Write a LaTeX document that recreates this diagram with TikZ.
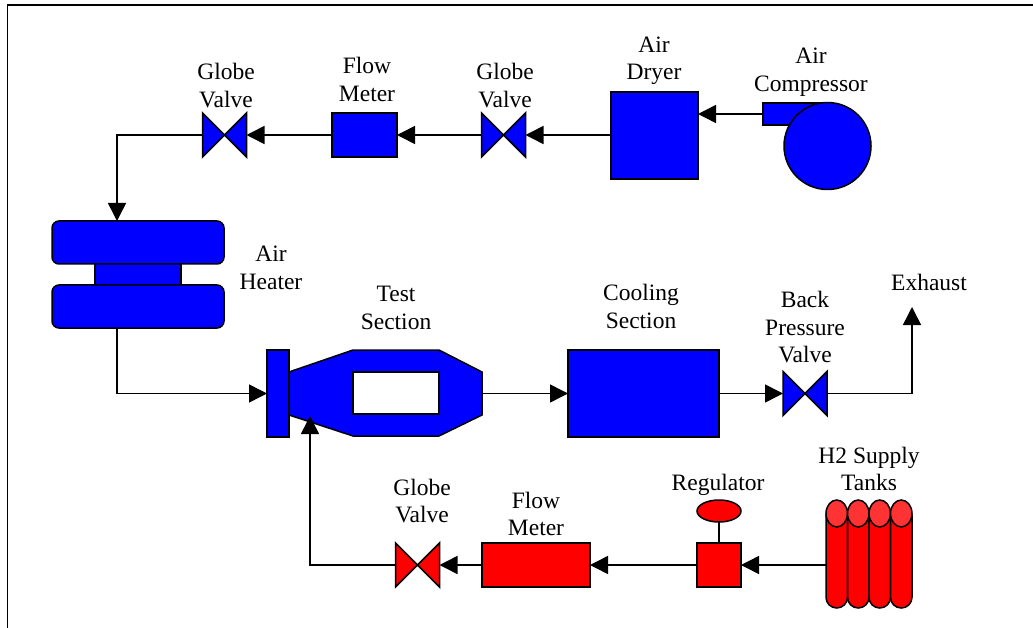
\documentclass[tikz,border=0pt]{standalone}
\usepackage{fontspec}
\setmainfont{Liberation Serif}
\usetikzlibrary{arrows.meta,shapes.geometric}
\definecolor{fblue}{RGB}{0,0,255}
\definecolor{fred}{RGB}{255,0,0}
\definecolor{capred}{RGB}{255,51,51}
\tikzset{x=1pt,y=-1pt,
 lbl/.style={font=\fontsize{23.5}{27.5}\selectfont,align=center,text=black,inner sep=0pt},
 ol/.style={draw=black,line width=1.5pt,line join=miter},
 box/.style={ol,fill=fblue,inner sep=0,outer sep=0},
 rbox/.style={ol,fill=fred,inner sep=0,outer sep=0},
 flow/.style={draw=black,line width=1.5pt,-{Triangle[length=18pt,width=18pt]}}}
\newcommand{\valve}[3]{% name, center, colour
 \path #2 coordinate (#1);
 \filldraw[ol,fill=#3] ([shift={(-22,-22)}]#1) -- ([shift={(22,22)}]#1) -- ([shift={(22,-22)}]#1) -- ([shift={(-22,22)}]#1) -- cycle;
 \coordinate (#1 w) at ([xshift=-22pt]#1);
 \coordinate (#1 e) at ([xshift=22pt]#1);}
\begin{document}
\begin{tikzpicture}
\useasboundingbox (0,0) rectangle (1033,628);
\fill[white] (0,0) rectangle (1033,628);
% frame
\coordinate (fa) at (7.5,628); \coordinate (fb) at (7.5,5); \coordinate (fc) at (1033,5);
\draw[black,line width=1.5pt] (fa) -- (fb) -- (fc);
% compressor
\node[box,anchor=north west,minimum width=64pt,minimum height=22pt] (compd) at (763,103) {};
\node[box,circle,minimum size=87pt] (comp) at (827.5,146) {};
\node[lbl] (tcomp) at (811,72) {Air\\Compressor};
% dryer
\node[box,anchor=north west,minimum width=87pt,minimum height=87pt] (dryer) at (611,92) {};
\node[lbl] (tdry) at (654,61) {Air\\Dryer};
\valve{v1}{(503.5,135)}{fblue}
\node[lbl] (tv1) at (505,85.5) {Globe\\Valve};
\node[box,anchor=north west,minimum width=65pt,minimum height=44pt] (fm1) at (332,113) {};
\node[lbl] (tfm1) at (367,79.5) {Flow\\Meter};
\valve{v2}{(224.5,135)}{fblue}
\node[lbl] (tv2) at (226,85.5) {Globe\\Valve};
% heater
\node[box,anchor=north west,minimum width=86pt,minimum height=44pt] (hm) at (95,242) {};
\node[box,rounded corners=7pt,anchor=north west,minimum width=172pt,minimum height=43pt] (h1) at (52,221) {};
\node[box,rounded corners=7pt,anchor=north west,minimum width=172pt,minimum height=43pt] (h2) at (52,285) {};
\node[lbl] (theat) at (271,268) {Air\\Heater};
% test section
\fill[fblue] (289,372) -- (353,350) -- (439,350) -- (482,372) -- (482,415) -- (439,436) -- (353,436) -- (289,415) -- cycle;
\draw[ol] (289,372) -- (353,350) -- (439,350) -- (482,372) -- (482,415) -- (439,436) -- (353,436) -- (289,415);
\node[ol,fill=white,inner sep=0,outer sep=0,anchor=north west,minimum width=86pt,minimum height=42pt] (win) at (353,372) {};
\node[box,anchor=north west,minimum width=22pt,minimum height=87pt] (inj) at (267,350) {};
\coordinate (tse) at (482,393);
\coordinate (tsb) at (310,416);
\node[lbl] (tts) at (396,308) {Test\\Section};
% cooling
\node[box,anchor=north west,minimum width=151pt,minimum height=87pt] (cool) at (568,350) {};
\node[lbl] (tcool) at (641,306.5) {Cooling\\Section};
\valve{v3}{(805,393.5)}{fblue}
\node[lbl] (tv3) at (805,327.5) {Back\\Pressure\\Valve};
\node[lbl] (tex) at (929,282) {Exhaust};
\coordinate (ex) at (912,307);
% tanks
\foreach \i/\x in {1/836.75,2/858.25,3/879.75,4/901.25}{
 \filldraw[ol,fill=fred,rounded corners=10.7pt] (\x-10.75,505) rectangle (\x+10.75,608);
 \node[ol,fill=capred,ellipse,minimum width=21.5pt,minimum height=27pt,inner sep=0,outer sep=0] (cap\i) at (\x,513.5) {};
}
\coordinate (tankw) at (826,565);
\node[lbl] (ttank) at (869,469) {H2 Supply\\Tanks};
% regulator
\node[rbox,anchor=north west,minimum width=44pt,minimum height=44pt] (reg) at (697,543) {};
\node[rbox,ellipse,minimum width=44pt,minimum height=22pt] (gauge) at (719,511) {};
\draw[ol] (gauge.south) -- (reg.north);
\node[lbl] (treg) at (718,485) {Regulator};
% flow meter
\node[rbox,anchor=north west,minimum width=108pt,minimum height=44pt] (fm2) at (482,543) {};
\node[lbl] (tfm2) at (536,514) {Flow\\Meter};
\valve{v4}{(417.5,565)}{fred}
\node[lbl] (tv4) at (422,501) {Globe\\Valve};
% connectors
\draw[flow] (compd.west) -- (dryer.east |- compd.west);
\draw[flow] (dryer.west |- v1) -- (v1 e);
\draw[flow] (v1 w) -- (fm1.east |- v1);
\draw[flow] (fm1.west) -- (v2 e);
\coordinate (bend) at (117,135);
\draw[flow] (v2 w) -- (bend) -- (bend |- h1.north);
\draw[flow] (bend |- h2.south) |- (inj.west);
\draw[flow] (tse |- cool.west) -- (cool.west);
\draw[flow] (cool.east) -- (v3 w);
\draw[flow] (v3 e) -| (ex);
\draw[flow] (tankw) -- (reg.east);
\draw[flow] (reg.west) -- (fm2.east);
\draw[flow] (fm2.west) -- (v4 e);
\draw[flow] (v4 w) -| (tsb);
\end{tikzpicture}
\end{document}
